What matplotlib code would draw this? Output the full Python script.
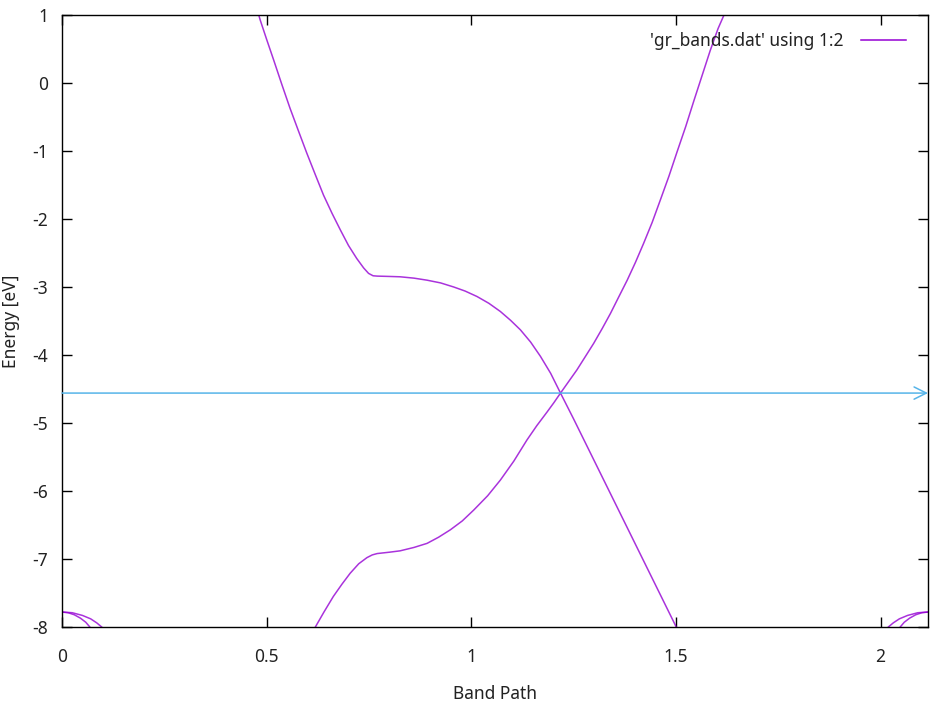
import matplotlib
matplotlib.use("Agg")
import matplotlib.pyplot as plt
from matplotlib.lines import Line2D

plt.rcParams['font.family'] = ['Noto Sans', 'DejaVu Sans']

# Band data (x = band path, E = energy in eV)
band1_x = [0.476, 0.484, 0.500, 0.517, 0.537, 0.557, 0.578, 0.598, 0.619, 0.639,
           0.660, 0.680, 0.700, 0.720, 0.737, 0.749, 0.760, 0.770,
           0.800, 0.826, 0.860, 0.892, 0.925, 0.957, 0.985, 1.014, 1.043,
           1.071, 1.096, 1.120, 1.145, 1.169, 1.194, 1.218,
           1.250, 1.300, 1.350, 1.400, 1.450, 1.500, 1.510]
band1_E = [1.10, 0.93, 0.64, 0.34, -0.02, -0.37, -0.71, -1.03, -1.35, -1.65,
           -1.92, -2.16, -2.39, -2.58, -2.72, -2.80, -2.835, -2.84,
           -2.845, -2.85, -2.87, -2.90, -2.94, -3.00, -3.06, -3.14, -3.24,
           -3.36, -3.49, -3.63, -3.81, -4.02, -4.27, -4.56,
           -4.94, -5.55, -6.16, -6.77, -7.38, -7.99, -8.12]

band2_x = [0.612, 0.619, 0.640, 0.663, 0.684, 0.704, 0.725, 0.745, 0.758, 0.770,
           0.800, 0.826, 0.860, 0.892, 0.920, 0.949, 0.978, 1.006, 1.040,
           1.071, 1.104, 1.136, 1.160, 1.185, 1.202, 1.218,
           1.238, 1.258, 1.278, 1.299, 1.320, 1.340, 1.360, 1.381, 1.401,
           1.421, 1.442, 1.462, 1.483, 1.503, 1.524, 1.544, 1.564, 1.584,
           1.603, 1.619, 1.627]
band2_E = [-8.10, -8.00, -7.78, -7.55, -7.37, -7.21, -7.07, -6.98, -6.94, -6.92,
           -6.90, -6.88, -6.83, -6.77, -6.68, -6.57, -6.44, -6.28, -6.07,
           -5.84, -5.56, -5.25, -5.04, -4.84, -4.70, -4.56,
           -4.39, -4.22, -4.03, -3.83, -3.61, -3.39, -3.15, -2.90, -2.64,
           -2.36, -2.05, -1.72, -1.37, -1.01, -0.64, -0.26, 0.11, 0.48,
           0.80, 1.02, 1.15]

sigma1_x = [0.000, 0.015, 0.030, 0.045, 0.058, 0.068, 0.072]
sigma1_E = [-7.78, -7.79, -7.82, -7.87, -7.93, -8.00, -8.03]
sigma2_x = [0.000, 0.025, 0.050, 0.070, 0.085, 0.097, 0.101]
sigma2_E = [-7.78, -7.79, -7.83, -7.88, -7.94, -8.00, -8.03]
sigma3_x = [2.116, 2.101, 2.086, 2.071, 2.058, 2.048, 2.044]
sigma3_E = [-7.78, -7.79, -7.82, -7.87, -7.93, -8.00, -8.03]
sigma4_x = [2.116, 2.091, 2.066, 2.046, 2.031, 2.019, 2.015]
sigma4_E = [-7.78, -7.79, -7.83, -7.88, -7.94, -8.00, -8.03]

fermi_E = -4.56
x_max = 2.116

xticks = [0, 0.5, 1, 1.5, 2]
xtick_labels = ['0', '0.5', '1', '1.5', '2']
yticks = [1, 0, -1, -2, -3, -4, -5, -6, -7, -8]
ytick_labels = ['1', '0', '-1', '-2', '-3', '-4', '-5', '-6', '-7', '-8']

band_color = '#9400d3'
arrow_color = '#56b4e9'

fig = plt.figure(figsize=(9.37, 7.03), dpi=100)
ax = fig.add_axes([0.0662, 0.1081, 0.9242, 0.8706])

bands = [(band1_x, band1_E), (band2_x, band2_E),
         (sigma1_x, sigma1_E), (sigma2_x, sigma2_E),
         (sigma3_x, sigma3_E), (sigma4_x, sigma4_E)]
for bx, bE in bands:
    ax.plot(bx, bE, color=band_color, lw=1.1, alpha=0.8, solid_capstyle='butt')

ax.set_xlim(0, x_max)
ax.set_ylim(-8, 1)

# Fermi level arrow
ax.annotate('', xy=(x_max, fermi_E), xytext=(0, fermi_E),
            arrowprops=dict(arrowstyle='->', color=arrow_color, lw=1.1,
                            mutation_scale=22, shrinkA=0, shrinkB=0),
            annotation_clip=False)

ax.set_xticks(xticks)
ax.set_xticklabels(xtick_labels)
ax.set_yticks(yticks)
ax.set_yticklabels(ytick_labels)
ax.tick_params(direction='in', length=7, width=1, top=True, right=True,
               labelsize=12.5, colors='black', labelcolor='#222222')
ax.tick_params(axis='y', pad=10)
ax.tick_params(axis='x', pad=15)
for s in ax.spines.values():
    s.set_linewidth(1.0)
    s.set_color('black')

ax.set_xlabel('Band Path', fontsize=12.5, labelpad=14, color='#222222')
ax.set_ylabel('Energy [eV]', fontsize=12.5, labelpad=9, color='#222222')

handle = Line2D([], [], color=band_color, lw=1.1)
leg = ax.legend([handle], ["'gr_bands.dat' using 1:2"], loc='upper right',
                frameon=False, fontsize=12.5, handlelength=2.6,
                handletextpad=1.0, markerfirst=False,
                bbox_to_anchor=(0.993, 0.998))
for t in leg.get_texts():
    t.set_color('#222222')

fig.savefig('out.png', dpi=100)
